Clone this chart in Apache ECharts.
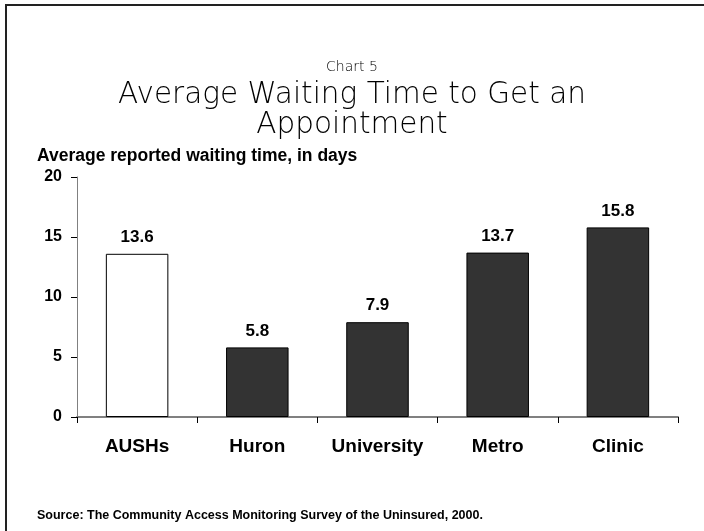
<!DOCTYPE html>
<html>
<head>
<meta charset="utf-8">
<script src="https://cdn.jsdelivr.net/npm/echarts@6/dist/echarts.min.js"></script>
<style>
  html, body { margin: 0; padding: 0; background: #fff; }
  #chart { width: 704px; height: 531px; }
</style>
</head>
<body>
<div id="chart"></div>
<script>
// categories and values
var categories = ["AUSHs", "Huron", "University", "Metro", "Clinic"];
var waitDays = [13.6, 5.8, 7.9, 13.7, 15.8];
var barColors = ["#ffffff", "#333333", "#333333", "#333333", "#333333"];

var chart = echarts.init(document.getElementById("chart"));

var opt = {
  backgroundColor: "#fff",
  animation: false,
  title: [
    {
      text: "Chart 5",
      left: "center",
      top: 60,
      padding: 0,
      textStyle: { fontFamily: "DejaVu Sans", fontWeight: 200, fontSize: 14, color: "#000" }
    },
    {
      text: "Average Waiting Time to Get an\nAppointment",
      left: "center",
      top: 80,
      padding: 0,
      textStyle: { fontFamily: "DejaVu Sans", fontWeight: 200, fontSize: 29.5, lineHeight: 30, color: "#000" }
    },
    {
      text: "Source: The Community Access Monitoring Survey of the Uninsured, 2000.",
      left: 37,
      top: 509,
      padding: 0,
      textStyle: { fontFamily: "Liberation Sans", fontWeight: "bold", fontSize: 12.5, color: "#000" }
    }
  ],
  // frame lines at top and left
  graphic: [
    { type: "line", shape: { x1: 5, y1: 5, x2: 704, y2: 5 }, style: { stroke: "#222", lineWidth: 2 } },
    { type: "line", shape: { x1: 6, y1: 4, x2: 6, y2: 531 }, style: { stroke: "#222", lineWidth: 2 } }
  ],
  grid: {
    left: 77,
    right: 26,
    top: 177,
    bottom: 114
  },
  xAxis: {
    type: "category",
    data: categories,
    axisLine: { lineStyle: { color: "#808080", width: 2 } },
    axisTick: { show: true, length: 6, lineStyle: { color: "#000" } },
    axisLabel: {
      margin: 20,
      fontFamily: "Liberation Sans",
      fontWeight: "bold",
      fontSize: 19,
      color: "#000"
    }
  },
  yAxis: {
    type: "value",
    min: 0,
    max: 20,
    interval: 5,
    name: "Average reported waiting time, in days",
    nameLocation: "end",
    nameGap: 12,
    nameTextStyle: {
      align: "left",
      padding: [0, 0, 0, -40],
      fontFamily: "Liberation Sans",
      fontWeight: "bold",
      fontSize: 17.5,
      color: "#000"
    },
    splitLine: { show: false },
    axisLine: { show: true, lineStyle: { color: "#808080" } },
    axisTick: { show: true, length: 6, lineStyle: { color: "#000" } },
    axisLabel: {
      margin: 15,
      fontFamily: "Liberation Sans",
      fontWeight: "bold",
      fontSize: 16,
      color: "#000"
    }
  },
  series: [
    {
      type: "bar",
      barWidth: "52%",
      data: waitDays.map(function (v, i) {
        return { value: v, itemStyle: { color: barColors[i] } };
      }),
      itemStyle: { borderColor: "#000", borderWidth: 1 },
      label: {
        show: true,
        position: "top",
        distance: 8,
        formatter: function (p) { return p.value.toFixed(1); },
        fontFamily: "Liberation Sans",
        fontWeight: "bold",
        fontSize: 17,
        color: "#000"
      }
    }
  ]
};

chart.setOption(opt);
</script>
</body>
</html>
